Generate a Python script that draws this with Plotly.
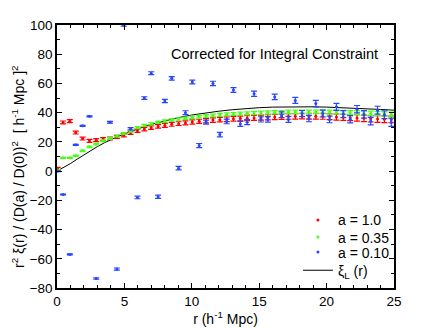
import plotly.graph_objects as go

# separation bins (h^-1 Mpc)
r = [0.05, 0.45, 0.95, 1.39, 1.90, 2.41, 2.91, 3.42, 3.93, 4.44,
     4.95, 5.46, 5.97, 6.48, 6.99, 7.50, 8.00, 8.51, 9.02, 9.53,
     10.04, 10.55, 11.06, 11.57, 12.08, 12.59, 13.09, 13.60, 14.11, 14.62,
     15.13, 15.64, 16.15, 16.66, 17.17, 17.68, 18.18, 18.69, 19.20, 19.71,
     20.22, 20.73, 21.24, 21.75, 22.26, 22.77, 23.27, 23.78, 24.29, 24.80]

xi_a100 = [1.8, 33.3, 34.2, 26.4, 22.3, 20.7, 21.2, 21.9, 22.3, 23.4,
           24.6, 26.2, 27.6, 28.8, 29.7, 30.6, 31.3, 32.0, 32.5, 33.0,
           33.6, 34.1, 34.5, 34.9, 35.2, 35.5, 35.8, 36.0, 36.2, 36.4,
           36.6, 36.8, 37.0, 37.2, 37.4, 37.5, 37.6, 37.6, 37.6, 37.5,
           37.3, 37.0, 36.8, 36.6, 36.4, 36.1, 35.8, 35.6, 35.5, 35.4]
err_a100 = [0.8, 1.0, 1.0, 1.0, 1.0, 1.0, 1.0, 1.0, 1.0, 1.0,
            1.1, 1.1, 1.1, 1.2, 1.2, 1.2, 1.3, 1.3, 1.3, 1.4,
            1.4, 1.4, 1.5, 1.5, 1.5, 1.6, 1.6, 1.6, 1.7, 1.7,
            1.7, 1.8, 1.8, 1.8, 1.9, 1.9, 1.9, 2.0, 2.0, 2.0,
            2.0, 2.1, 2.1, 2.1, 2.2, 2.2, 2.2, 2.3, 2.3, 2.3]

xi_a035 = [0.7, 9.1, 9.1, 10.5, 13.9, 16.6, 18.5, 20.7, 22.3, 24.1,
           25.8, 27.2, 29.8, 31.3, 32.4, 33.4, 34.2, 35.0, 35.6, 36.2,
           36.8, 37.3, 37.7, 38.1, 38.5, 38.8, 39.1, 39.4, 39.6, 39.8,
           40.0, 40.1, 40.3, 40.4, 40.5, 40.5, 40.6, 40.6, 40.6, 40.6,
           40.5, 40.4, 40.3, 40.1, 40.0, 39.8, 39.6, 39.4, 39.2, 38.9]
err_a035 = [0.4, 0.4, 0.4, 0.4, 0.5, 0.5, 0.5, 0.5, 0.6, 0.6,
            0.6, 0.6, 0.7, 0.7, 0.7, 0.7, 0.8, 0.8, 0.8, 0.8,
            0.9, 0.9, 0.9, 0.9, 1.0, 1.0, 1.0, 1.0, 1.0, 1.1,
            1.1, 1.1, 1.1, 1.1, 1.2, 1.2, 1.2, 1.2, 1.2, 1.3,
            1.3, 1.3, 1.3, 1.3, 1.4, 1.4, 1.4, 1.4, 1.4, 1.5]

xi_a010 = [0.0, -16.0, -57.0, 18.0, 31.0, 37.5, -73.5, None, 33.5, -67.0,
           100.0, 29.0, -18.0, 50.0, 67.0, -17.5, 48.0, 63.5, 2.0, 40.0,
           61.0, 17.5, 33.5, 60.0, 25.0, 34.0, 55.5, 32.3, 33.5, 53.0,
           35.4, 35.4, 50.8, 38.6, 35.4, 48.4, 39.4, 36.0, 46.2, 39.4,
           35.4, 44.0, 39.0, 35.5, 42.4, 38.8, 34.2, 41.7, 38.6, 33.4]
err_a010 = [0.3, 0.3, 0.3, 0.4, 0.4, 0.4, 0.5, 0.6, 0.6, 0.7,
            0.8, 0.8, 0.9, 0.9, 1.0, 1.1, 1.1, 1.2, 1.2, 1.3,
            1.3, 1.4, 1.4, 1.5, 1.5, 1.6, 1.6, 1.7, 1.7, 1.8,
            1.8, 1.9, 1.9, 2.0, 2.0, 2.1, 2.1, 2.2, 2.2, 2.3,
            2.3, 2.4, 2.4, 2.5, 2.5, 2.6, 2.6, 2.7, 2.7, 2.8]

# linear theory curve
r_lin = [0, 0.5, 1, 1.5, 2, 2.5, 3, 3.5, 4, 4.5, 5, 5.5, 6, 6.5, 7, 8, 9, 10,
         11, 12, 13, 14, 15, 16, 17, 18, 19, 20, 21, 22, 23, 24, 25]
xi_lin = [0, 2.5, 5.2, 8.2, 11.2, 14.1, 16.8, 19.3, 21.6, 23.6, 25.5, 27.3, 29.0,
          30.5, 32.0, 34.5, 36.6, 38.4, 39.9, 41.0, 42.0, 42.8, 43.4, 43.8, 44.0,
          44.1, 44.0, 43.8, 43.5, 43.1, 42.7, 42.2, 41.7]

RED = 'rgb(255,0,0)'
GREEN = 'rgb(70,255,20)'
BLUE = 'rgb(40,70,255)'
FONT = 'Liberation Sans, Arial, sans-serif'

fig = go.Figure()

fig.add_trace(go.Scatter(x=r_lin, y=xi_lin, mode='lines', line=dict(color='black', width=1),
                         showlegend=False))

for ys, es, col in [(xi_a100, err_a100, RED), (xi_a035, err_a035, GREEN), (xi_a010, err_a010, BLUE)]:
    fig.add_trace(go.Scatter(
        x=r, y=ys, mode='markers',
        marker=dict(color=col, size=3),
        error_y=dict(type='data', array=es, color=col, thickness=1.2, width=3),
        showlegend=False
    ))

# legend entries, one small legend each so the spacing can be set
legend_rows = [('a = 1.0', RED, 'legend'),
               ('a = 0.35', GREEN, 'legend2'),
               ('a = 0.10', BLUE, 'legend3')]
for name, col, lg in legend_rows:
    fig.add_trace(go.Scatter(x=[None], y=[None], mode='markers', name=name, legend=lg,
                             marker=dict(color=col, size=3)))
fig.add_trace(go.Scatter(x=[None], y=[None], mode='lines', name='ξ<sub>L</sub> (r)',
                         legend='legend4', line=dict(color='black', width=1)))

leg = dict(x=0.715, xanchor='left', yanchor='middle', bgcolor='rgba(0,0,0,0)',
           font=dict(size=14), itemwidth=30, borderwidth=0)
fig.update_layout(
    legend=dict(y=0.257, **leg),
    legend2=dict(y=0.192, **leg),
    legend3=dict(y=0.135, **leg),
    legend4=dict(y=0.066, **leg),
)

fig.add_annotation(text='Corrected for Integral Constraint', x=0.958, y=0.89,
                   xref='paper', yref='paper', xanchor='right', yanchor='middle',
                   showarrow=False, font=dict(size=14.5, color='black'))

fig.add_annotation(text='r<sup>2</sup> ξ(r) / (D(a) / D(0))<sup>2</sup>  [ h<sup>-1</sup> Mpc ]<sup>2</sup>',
                   x=-0.116, y=0.46, xref='paper', yref='paper', textangle=-90,
                   xanchor='center', yanchor='middle', showarrow=False,
                   font=dict(size=14, color='black'))

axis_common = dict(
    showline=True, linecolor='black', linewidth=1.5, mirror='allticks',
    ticks='inside', ticklen=5, tickwidth=1, tickcolor='black',
    showgrid=False, zeroline=False, automargin=False,
    tickfont=dict(size=13.5, color='black'),
)

fig.update_xaxes(range=[0, 25], tickvals=[0, 5, 10, 15, 20, 25],
                 minor=dict(dtick=1, ticks='inside', ticklen=3, tickcolor='black'),
                 title=dict(text='r (h<sup>-1</sup> Mpc)', font=dict(size=14), standoff=4),
                 **axis_common)
fig.update_yaxes(range=[-80, 100], tickvals=[-80, -60, -40, -20, 0, 20, 40, 60, 80, 100],
                 minor=dict(dtick=10, ticks='inside', ticklen=3, tickcolor='black'),
                 **axis_common)

# the page adds an 8px body margin, so the figure is shifted to compensate
fig.update_layout(
    width=436, height=328,
    margin=dict(l=49, r=50, t=17, b=48),
    paper_bgcolor='white', plot_bgcolor='white',
    font=dict(family=FONT, size=14, color='black'),
)

fig.write_html("out.html")
